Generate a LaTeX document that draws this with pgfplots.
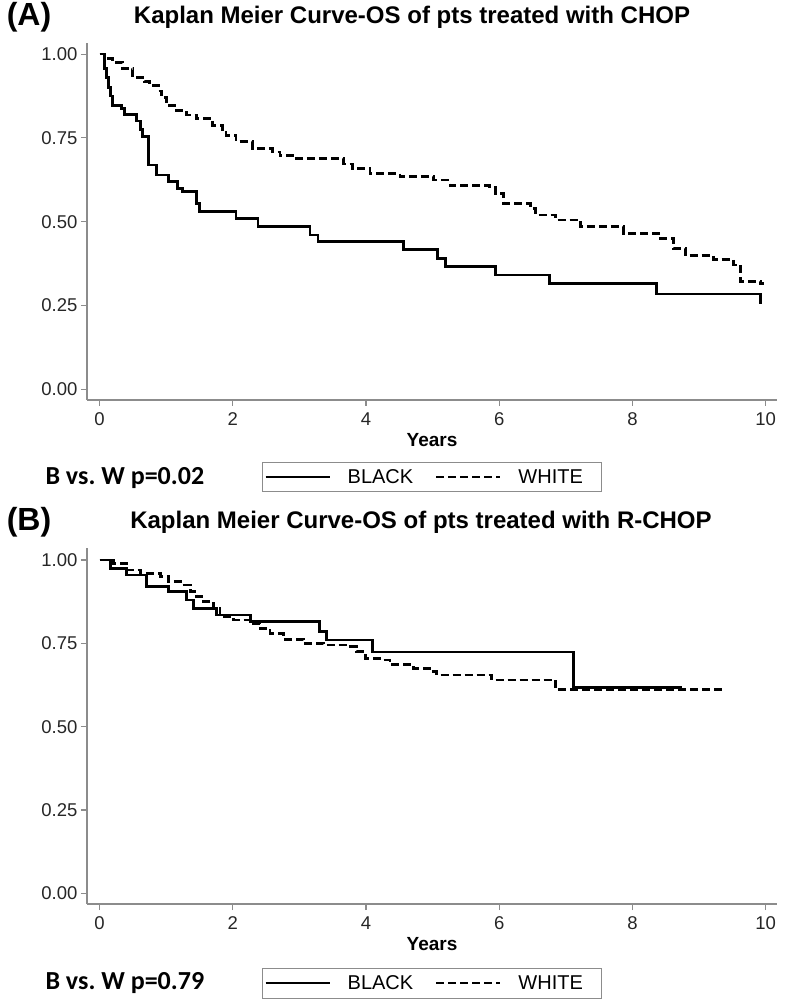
\documentclass[border=0pt]{standalone}
\usepackage{fontspec}
\setmainfont{Liberation Sans}
\newfontfamily\calib{Carlito}
\usepackage{pgfplots}
\pgfplotsset{compat=1.18}

\pgfplotsset{kmaxis/.style={
  width=690pt, scale only axis,
  xmin=-0.188, xmax=10.17, ymin=-0.032,
  axis lines=left,
  axis line style={-, draw=black!45, line width=1.3pt},
  tick align=outside, major tick length=6pt,
  tick style={draw=black!45, line width=1.1pt},
  xtick={0,2,4,6,8,10}, xticklabels={0,2,4,6,8,10},
  ytick={0,0.25,0.5,0.75,1}, yticklabels={0.00,0.25,0.50,0.75,1.00},
  tick label style={font=\fontsize{18.5}{21}\selectfont, text=black!85},
  xticklabel style={yshift=-3pt},
  xlabel={Years},
  xlabel style={font=\bfseries\fontsize{19}{22}\selectfont, at={(axis description cs:0.5,-0.112)}, anchor=center},
  legend columns=2,
  legend cell align=left,
  legend image code/.code={\draw[#1, line width=2.2pt] (0pt,0pt) -- (64pt,0pt);},
  legend style={anchor=north west, draw=black!45, line width=1pt,
    font=\fontsize{20}{23}\selectfont, inner xsep=2pt, inner ysep=4pt,
    nodes={inner xsep=17pt, inner ysep=3pt},
    /tikz/every even column/.append style={column sep=5pt}},
  km/.style={const plot, black, line width=2.8pt},
  kmd/.style={const plot, black, line width=2.8pt, dash pattern=on 8pt off 4pt},
}}

\begin{document}
\begin{tikzpicture}[x=1pt,y=1pt]
\useasboundingbox (0,0) rectangle (790,1005);

% ---------------- Panel A ----------------
\begin{axis}[kmaxis, at={(87pt,605pt)}, anchor=south west,
  height=357pt, ymax=1.033,
  legend style={at={(axis description cs:0.2536,-0.1737)}}]
\addplot[km] coordinates {
(0,1.0) (0.075,0.956) (0.10,0.93) (0.13,0.90) (0.16,0.875) (0.2,0.847)
(0.33,0.837) (0.38,0.82) (0.55,0.80) (0.62,0.775) (0.65,0.753)
(0.73,0.669) (0.85,0.639) (1.03,0.619) (1.17,0.60) (1.24,0.589)
(1.45,0.555) (1.5,0.53) (2.05,0.51) (2.38,0.485) (3.16,0.46)
(3.28,0.44) (4.56,0.416) (5.07,0.39) (5.19,0.366) (5.95,0.341)
(6.76,0.315) (8.36,0.284) (9.92,0.255)
};
\addlegendentry{BLACK}
\addplot[kmd] coordinates {
(0,1.0) (0.075,0.986) (0.2,0.976) (0.35,0.956) (0.5,0.93) (0.68,0.917)
(0.75,0.907) (0.88,0.89) (0.93,0.87) (1.0,0.847) (1.13,0.832) (1.3,0.818)
(1.45,0.808) (1.70,0.788) (1.85,0.775) (1.9,0.758) (2.05,0.738)
(2.3,0.718) (2.6,0.708) (2.71,0.698) (2.96,0.688) (3.66,0.672)
(3.8,0.659) (4.06,0.644) (4.51,0.634) (5.01,0.624) (5.26,0.609)
(5.86,0.601) (5.95,0.585) (6.07,0.555) (6.47,0.54) (6.54,0.52)
(6.84,0.505) (7.22,0.485) (7.87,0.465) (8.42,0.45) (8.62,0.42)
(8.8,0.398) (9.22,0.386) (9.52,0.371) (9.62,0.321) (9.92,0.316) (9.98,0.316)
};
\addlegendentry{WHITE}
\end{axis}

% ---------------- Panel B ----------------
\begin{axis}[kmaxis, at={(87pt,101pt)}, anchor=south west,
  height=356pt, ymax=1.036,
  legend style={at={(axis description cs:0.2536,-0.18)}}]
\addplot[km] coordinates {
(0,1.0) (0.16,0.975) (0.41,0.955) (0.71,0.92) (1.03,0.905) (1.31,0.88)
(1.41,0.855) (1.76,0.835) (2.27,0.815) (3.30,0.785) (3.41,0.76)
(4.10,0.724) (7.11,0.618) (8.74,0.618)
};
\addlegendentry{BLACK}
\addplot[kmd] coordinates {
(0,1.0) (0.21,0.99) (0.41,0.97) (0.61,0.96) (0.91,0.95) (1.03,0.935)
(1.21,0.925) (1.36,0.905) (1.46,0.89) (1.56,0.875) (1.71,0.855)
(1.81,0.83) (2.01,0.82) (2.26,0.81) (2.41,0.795) (2.56,0.78)
(2.76,0.762) (3.06,0.75) (3.36,0.745) (3.71,0.74) (3.86,0.725)
(3.99,0.705) (4.26,0.70) (4.36,0.687) (4.71,0.675) (5.01,0.665)
(5.06,0.655) (5.89,0.64) (6.84,0.612) (9.37,0.612)
};
\addlegendentry{WHITE}
\end{axis}

% ---------------- Texts ----------------
\node[font=\bfseries\fontsize{32}{36}\selectfont] at (29,988) {(A)};
\node[font=\bfseries\fontsize{24}{28}\selectfont] at (412,988) {Kaplan Meier Curve-OS of pts treated with CHOP};
\node[font=\calib\bfseries\fontsize{26}{30}\selectfont, anchor=west] at (42,527) {B vs.\ W p=0.02};

\node[font=\bfseries\fontsize{32}{36}\selectfont] at (29,483) {(B)};
\node[font=\bfseries\fontsize{24}{28}\selectfont] at (421,483) {Kaplan Meier Curve-OS of pts treated with R-CHOP};
\node[font=\calib\bfseries\fontsize{26}{30}\selectfont, anchor=west] at (42,22) {B vs.\ W p=0.79};
\end{tikzpicture}
\end{document}
